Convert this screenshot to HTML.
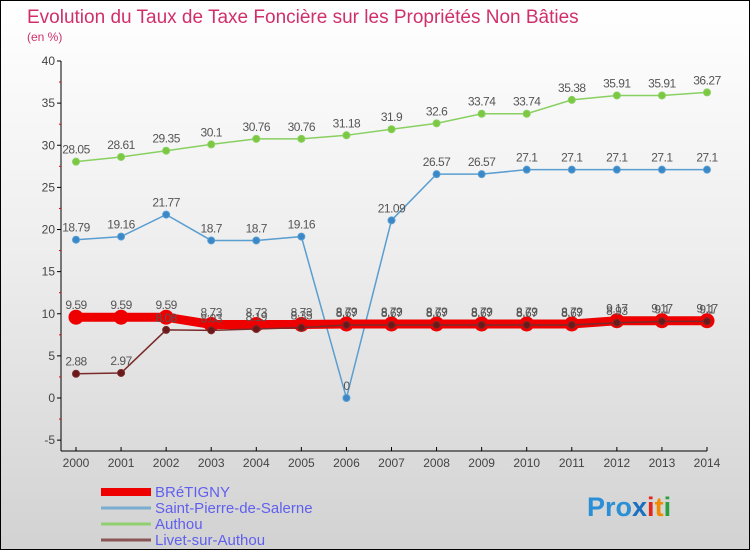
<!DOCTYPE html>
<html><head><meta charset="utf-8"><style>
body{margin:0}
#c{width:748px;height:548px;border:1px solid #000;background:linear-gradient(#fff 0%,#eee 45%,#d2d2d2 100%);position:relative;font-family:"Liberation Sans",sans-serif;overflow:hidden}
text{font-family:"Liberation Sans",sans-serif}
</style></head><body>
<div id="c">
<svg id="s" width="748" height="548">
<text x="26" y="22" font-size="19" fill="#d0306a">Evolution du Taux de Taxe Foncière sur les Propriétés Non Bâties</text>
<text x="26" y="40" font-size="12" fill="#d0306a">(en %)</text>
<g id="axes"></g><g id="series"></g><g id="legend"></g>
<text x="586" y="515" font-size="27" font-weight="bold"><tspan fill="#2a8fd6">Pro</tspan><tspan fill="#1a6fc0">x</tspan><tspan fill="#e2261c">i</tspan><tspan fill="#f08a00">t</tspan><tspan fill="#2aa040">i</tspan></text>
</svg></div>
<script>
const years=[2000,2001,2002,2003,2004,2005,2006,2007,2008,2009,2010,2011,2012,2013,2014];
const yTicks=[-5,0,5,10,15,20,25,30,35,40];
const bretigny=[9.59,9.59,9.59,8.73,8.73,8.73,8.79,8.79,8.79,8.79,8.79,8.79,9.17,9.17,9.17];
const saintPierre=[18.79,19.16,21.77,18.7,18.7,19.16,0,21.09,26.57,26.57,27.1,27.1,27.1,27.1,27.1];
const authou=[28.05,28.61,29.35,30.1,30.76,30.76,31.18,31.9,32.6,33.74,33.74,35.38,35.91,35.91,36.27];
const livet=[2.88,2.97,8.08,8.03,8.19,8.35,8.67,8.67,8.67,8.67,8.67,8.67,8.93,9.1,9.1];
const NS="http://www.w3.org/2000/svg";
const X=i=>75+i*(706-75)/(years.length-1);
const Y=v=>397-v*(397-60)/40;
function mk(t,a,p){const e=document.createElementNS(NS,t);for(const k in a)e.setAttribute(k,a[k]);p.appendChild(e);return e;}
const ax=document.getElementById('axes');
let l=mk('line',{x1:60,y1:Y(40),x2:60,y2:450,stroke:'#000'},ax);


l=mk('line',{x1:60,y1:450,x2:706,y2:450,stroke:'#000'},ax);


yTicks.forEach(v=>{
 const t=mk('line',{x1:56,x2:60,y1:Y(v),y2:Y(v),stroke:'#000'},ax);
 
 
 const m=mk('line',{x1:58,x2:60,y1:Y(v+2.5),y2:Y(v+2.5),stroke:'#e00'},ax);
 if(v==40)m.remove();
 const tx=mk('text',{x:54,y:Y(v)+4,'font-size':12,fill:'#444','text-anchor':'end'},ax);
 tx.textContent=v;
 
 
});
years.forEach((yr,i)=>{
 const t=mk('line',{x1:X(i),x2:X(i),y1:446,y2:450,stroke:'#000'},ax);
 
 
 const tx=mk('text',{x:X(i),y:466,'font-size':12,fill:'#444','text-anchor':'middle'},ax);
 tx.textContent=yr;
 
 
});
const sg=document.getElementById('series');
function draw(vals,name,col,w,r,pc){
 const g=mk('g',{},sg);
 
 
 const p=mk('polyline',{points:vals.map((v,i)=>X(i)+','+Y(v)).join(' '),fill:'none',stroke:col,'stroke-width':w},g);
 
 
 vals.forEach((v,i)=>{
  const c=mk('circle',{cx:X(i),cy:Y(v),r:r,fill:pc,stroke:col,'stroke-width':1},g);
  
  
  const t=mk('text',{x:X(i),y:Y(v)-8,'font-size':12,fill:'#555','text-anchor':'middle','letter-spacing':'-0.5'},g);
  t.textContent=v;
  
  
 });
}
draw(authou,'authou','#88d060',1.5,3.5,'#7cc840');
draw(saintPierre,'saint-pierre','#5a9ed0',1.5,3.5,'#3a88c8');
draw(bretigny,'bretigny','#ee0000',9,7,'#ee0000');
draw(livet,'livet','#7a2a2a',1.5,3.5,'#6a1a1a');
const lg=document.getElementById('legend');
[['BRéTIGNY','#ee0000',8],['Saint-Pierre-de-Salerne','#7aaed0',3],['Authou','#90d070',3],['Livet-sur-Authou','#8a5555',3]].forEach((e,i)=>{
 const y=491+i*16;
 const ln=mk('line',{x1:100,x2:150,y1:y,y2:y,stroke:e[1],'stroke-width':e[2]},lg);
 
 
 const t=mk('text',{x:154,y:y+5,'font-size':15,fill:'#6060ee'},lg);
 t.textContent=e[0];
 
 
});
</script>
</body></html>
